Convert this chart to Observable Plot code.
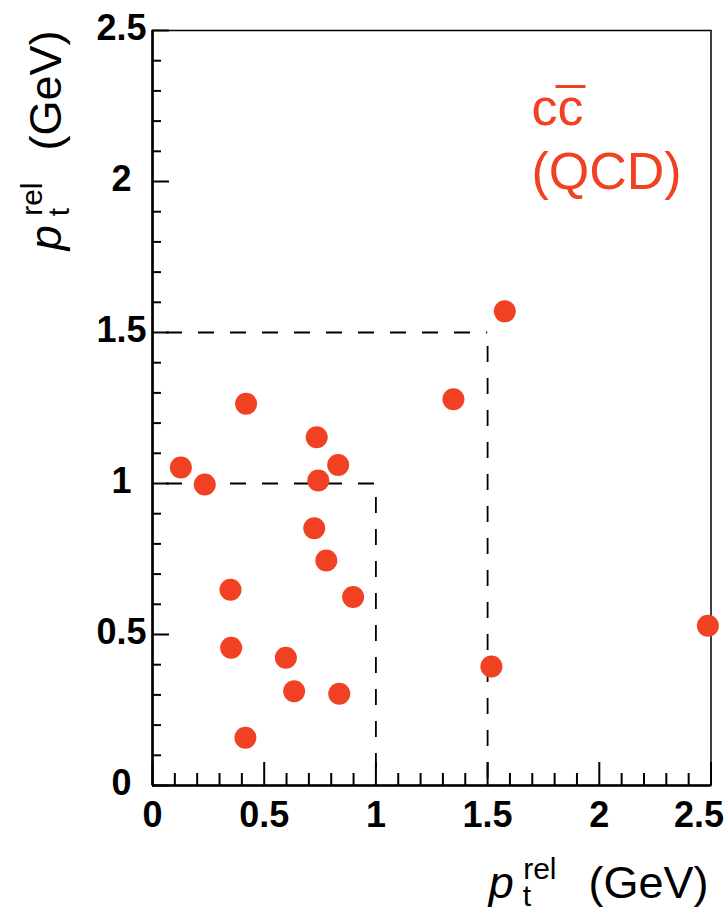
<!DOCTYPE html>
<html>
<head>
<meta charset="utf-8">
<script src="https://cdn.jsdelivr.net/npm/d3@7"></script>
<script src="https://cdn.jsdelivr.net/npm/@observablehq/plot@0.6"></script>
<style>
  html, body { margin: 0; padding: 0; background: #fff; }
  svg { display: block; }
</style>
</head>
<body>
<div id="chart"></div>
<script>
// ---- data ----
const ptX = [0.127, 0.234, 0.419, 0.735, 0.831, 0.742, 0.724, 0.778, 0.349, 0.898,
             0.352, 0.597, 0.634, 0.836, 0.416, 1.577, 1.347, 1.517, 2.486];
const ptY = [1.053, 0.997, 1.264, 1.153, 1.061, 1.010, 0.852, 0.745, 0.648, 0.624,
             0.456, 0.423, 0.312, 0.304, 0.158, 1.570, 1.279, 0.394, 0.529];
const majorTicks = [0, 0.5, 1, 1.5, 2, 2.5];
const tickLabels = ["0", "0.5", "1", "1.5", "2", "2.5"];
const minorTicks = [0.1, 0.2, 0.3, 0.4, 0.6, 0.7, 0.8, 0.9, 1.1, 1.2, 1.3, 1.4,
                    1.6, 1.7, 1.8, 1.9, 2.1, 2.2, 2.3, 2.4];
const cutLevels = [1, 1.5];
const sampleLines = ["cc", "(QCD)"];
const axisTitle = ["p t rel (GeV)"];

const points = ptX.map((x, i) => ({x, y: ptY[i]}));
const ticks = majorTicks.map((v, i) => ({v, label: tickLabels[i]}));
const red = "#f04123";
const font = "'Liberation Sans', Arial, Helvetica, sans-serif";

const chart = Plot.plot({
  width: 728,
  height: 911,
  marginLeft: 152,
  marginRight: 17.5,
  marginTop: 30,
  marginBottom: 126,
  style: {fontFamily: font, background: "white", color: "black", overflow: "visible"},
  x: {domain: [0, 2.5], axis: null},
  y: {domain: [0, 2.5], axis: null},
  marks: [
    // dashed cut boxes
    Plot.ruleY(cutLevels, {y: d => d, x1: () => 0, x2: d => d, stroke: "black", strokeWidth: 1.8,
      strokeDasharray: "16,16", strokeDashoffset: 18}),
    Plot.ruleX(cutLevels, {x: d => d, y1: d => d, y2: () => 0, stroke: "black", strokeWidth: 1.8,
      strokeDasharray: "16,16", strokeDashoffset: 18}),
    // frame
    Plot.frame({stroke: "black", strokeWidth: 1.5}),
    Plot.ruleX([0], {stroke: "black", strokeWidth: 2.6}),
    Plot.ruleY([0], {stroke: "black", strokeWidth: 2.4}),
    // x ticks (inward)
    Plot.ruleX(minorTicks, {x: d => d, y1: () => 0, y2: () => 0, insetTop: -12, stroke: "black", strokeWidth: 2}),
    Plot.ruleX(majorTicks, {x: d => d, y1: () => 0, y2: () => 0, insetTop: -23, stroke: "black", strokeWidth: 2}),
    // y ticks (inward)
    Plot.ruleY(minorTicks, {y: d => d, x1: () => 0, x2: () => 0, insetRight: -9, stroke: "black", strokeWidth: 2}),
    Plot.ruleY(majorTicks, {y: d => d, x1: () => 0, x2: () => 0, insetRight: -17, stroke: "black", strokeWidth: 2}),
    // tick labels
    Plot.text(ticks.slice(0, 5), {x: "v", text: "label", frameAnchor: "bottom", dy: 30,
      lineAnchor: "middle", textAnchor: "middle", fontSize: 36, fontWeight: "bold", fill: "black"}),
    Plot.text(ticks.slice(5), {x: "v", text: "label", frameAnchor: "bottom", dy: 30, dx: -12,
      lineAnchor: "middle", textAnchor: "middle", fontSize: 36, fontWeight: "bold", fill: "black"}),
    Plot.text(ticks, {y: "v", text: "label", frameAnchor: "left", dx: -31, dy: -2,
      lineAnchor: "middle", textAnchor: "middle", fontSize: 36, fontWeight: "bold", fill: "black"}),
    // axis titles
    Plot.text(axisTitle, {text: d => d, frameAnchor: "bottom-right", dx: -2.5, dy: 112,
      textAnchor: "end", lineAnchor: "bottom", fontSize: 45, fill: "black"}),
    Plot.text(axisTitle, {text: d => d, frameAnchor: "top-left", dx: -92, dy: 0, rotate: -90,
      textAnchor: "end", lineAnchor: "bottom", fontSize: 45, fill: "black"}),
    // sample label
    Plot.text(sampleLines.slice(0, 1), {text: d => d, frameAnchor: "top-left", dx: 379, dy: 94,
      textAnchor: "start", lineAnchor: "bottom", fontSize: 52, fill: red}),
    Plot.text(sampleLines.slice(1), {text: d => d, frameAnchor: "top-left", dx: 379, dy: 158,
      textAnchor: "start", lineAnchor: "bottom", fontSize: 52, fill: red}),
    // data points
    Plot.dot(points, {x: "x", y: "y", r: 11, fill: red, stroke: "none"})
  ]
});

document.getElementById("chart").appendChild(chart);

// rich text for axis titles: p_t^rel (GeV)
d3.select(chart).selectAll("text").filter(function() { return this.textContent === axisTitle[0]; })
  .each(function() {
    const t = d3.select(this);
    t.text(null);
    t.append("tspan").attr("font-style", "italic").text("p");
    t.append("tspan").attr("font-size", 30).attr("dx", 9).attr("dy", 8).text("t");
    t.append("tspan").attr("font-size", 30).attr("dx", -8).attr("dy", -27).text("rel");
    t.append("tspan").attr("dx", 32).attr("dy", 19).text("(GeV)");
  });

// overline on the anti-quark c
d3.select(chart).selectAll("text").filter(function() { return this.textContent === sampleLines[0]; })
  .each(function() {
    const s = this.getStartPositionOfChar(1);
    const e = this.getEndPositionOfChar(1);
    const g = this.parentNode;
    d3.select(g).append("line")
      .attr("transform", this.getAttribute("transform"))
      .attr("x1", s.x - 2).attr("x2", e.x + 2)
      .attr("y1", s.y - 38).attr("y2", s.y - 38)
      .attr("stroke", red).attr("stroke-width", 3);
  });
</script>
</body>
</html>
